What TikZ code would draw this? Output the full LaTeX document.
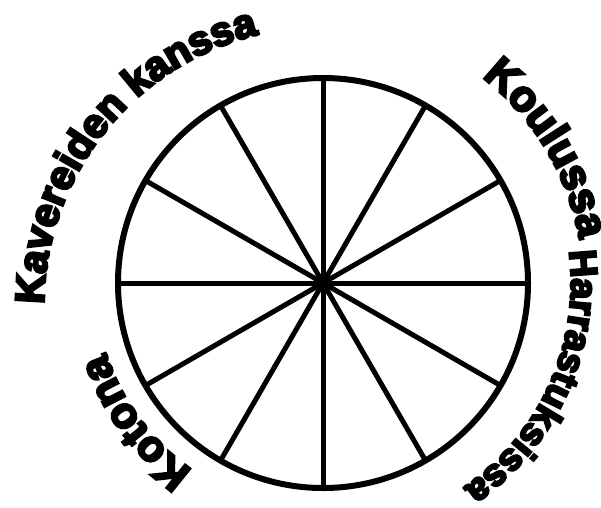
\documentclass[tikz,border=0pt]{standalone}
\usepackage{fontspec}
\newfontfamily\heavy[FakeBold=6]{Liberation Sans Bold}
\usetikzlibrary{decorations.text}
\tikzset{
  rim/.style={line width=6pt},
  spoke/.style={line width=5pt},
}
\newcommand{\arctext}[7]{% cx cy r start end size text
  \path[decorate, decoration={text along path, text align=center,
    text={|\heavy\fontsize{#6}{#6}\selectfont|#7}}]
    ([shift={(#1,#2)}]#4:#3) arc[start angle=#4, end angle=#5, radius=#3];}
\begin{document}
\begin{tikzpicture}[x=1pt,y=1pt]
\useasboundingbox (0,0) rectangle (601,-507);
\coordinate (c) at (323,-283);
\draw[rim] (c) circle[radius=205];
\foreach \a in {0,30,...,330} \draw[spoke] (c) -- ++(\a:205);
\arctext{323}{-306}{279}{179}{104}{41}{Kavereiden kanssa}
\arctext{323}{-283}{260}{56}{6}{43}{Koulussa}
\arctext{323}{-283}{248}{13}{-61}{38}{Harrastuksissa}
\arctext{323}{-283}{228}{239}{194}{43}{Kotona}
\end{tikzpicture}
\end{document}
